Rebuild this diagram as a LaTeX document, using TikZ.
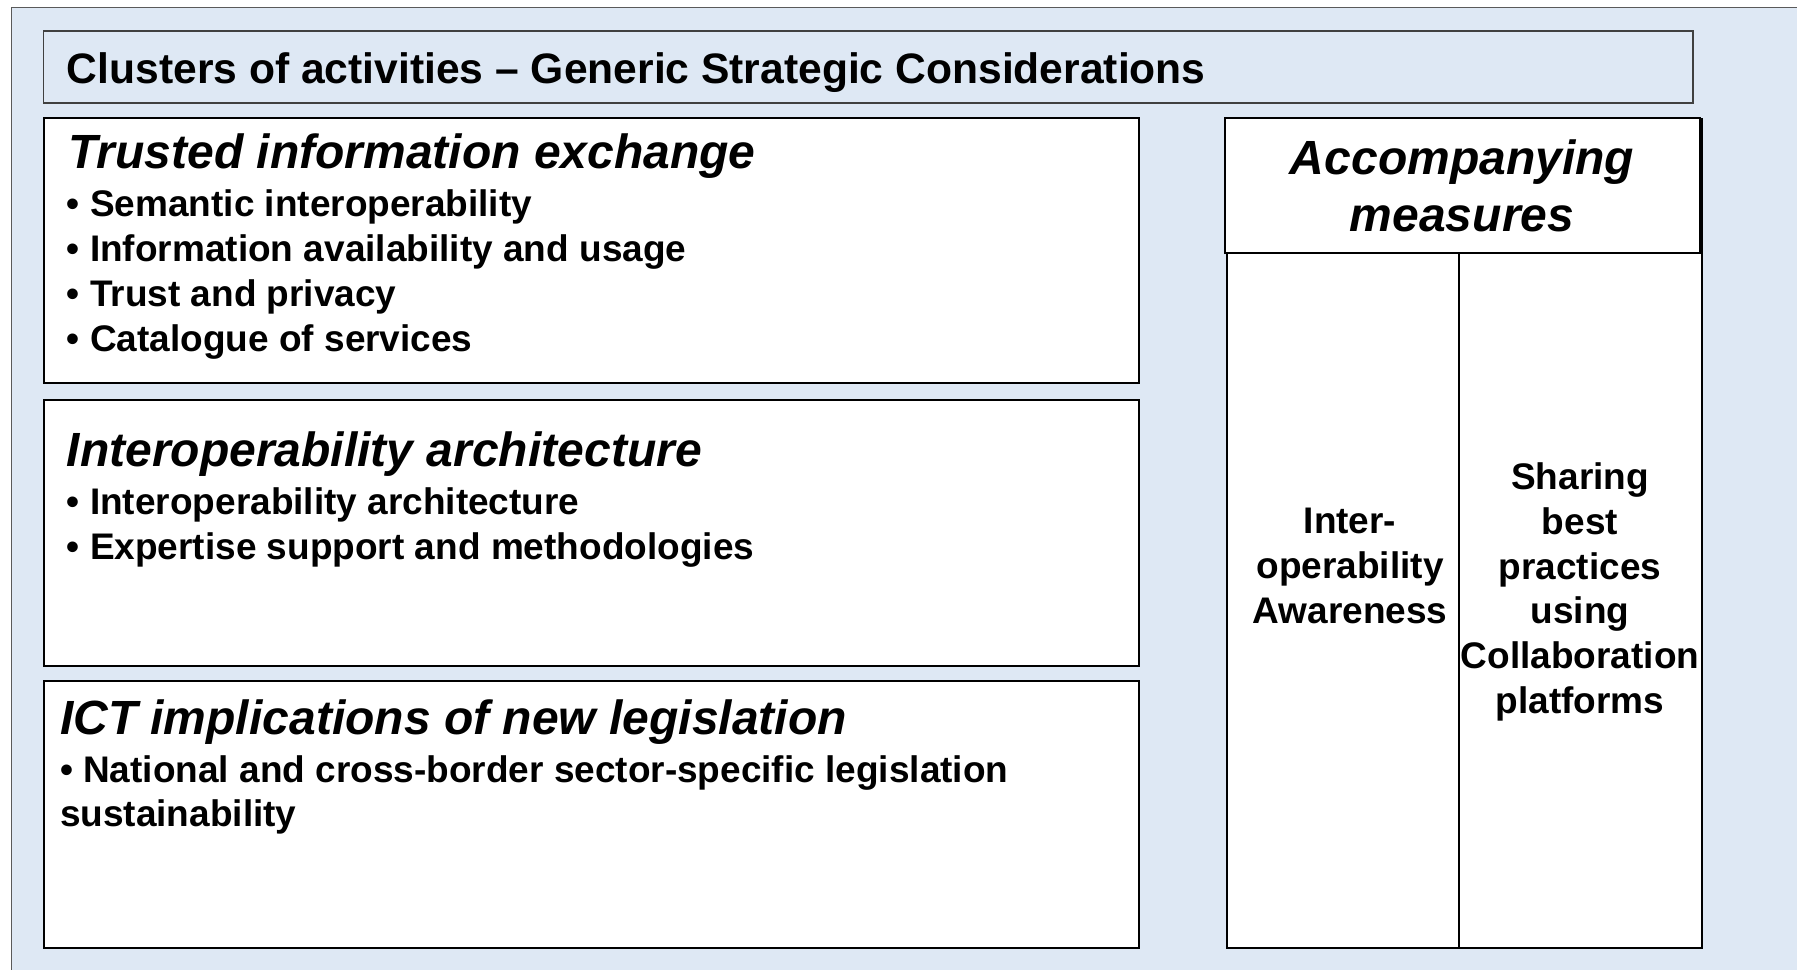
\documentclass[tikz,border=0pt]{standalone}
\usepackage{fontspec}
\setmainfont{Liberation Sans}
\definecolor{panelblue}{HTML}{DEE8F4}
\definecolor{framegray}{HTML}{5A5A5A}
\begin{document}
\begin{tikzpicture}[
    x=0.5pt, y=-0.5pt,
    frame/.style={draw=#1, fill=panelblue, line width=0.8pt},
    cluster/.style={draw, fill=white, line width=1pt},
    heading/.style={anchor=west, inner sep=0pt,
                    font=\fontsize{24}{28.8}\selectfont\bfseries\itshape},
    items/.style={anchor=west, inner sep=0pt, align=left,
                  font=\fontsize{18.5}{22.35}\selectfont\bfseries},
    measure/.style={inner sep=0pt, align=center,
                    font=\fontsize{18.5}{22.35}\selectfont\bfseries},
  ]
    \useasboundingbox (0,0) rectangle (1797,969);
    % Background frame and title bar
    \draw[frame=framegray] (11.5,7.5) rectangle (1820,990);
    \draw[frame=black!75] (43.5,31) rectangle (1693,103);
    \node[anchor=west, inner sep=0pt, font=\fontsize{21.3}{25}\selectfont\bfseries]
      (title) at (66.5,72.5) {Clusters of activities – Generic Strategic Considerations};

    % Clusters
    \draw[cluster] (43.5,118) rectangle (1139,383);
    \draw[cluster] (43.5,400) rectangle (1139,666);
    \draw[cluster] (43.5,681) rectangle (1139,948);

    \node[heading] (trust) at (68,156.5) {Trusted information exchange};
    \node[items] (trustitems) at (66.5,274.5) {• Semantic interoperability\\
      • Information availability and usage\\
      • Trust and privacy\\
      • Catalogue of services};

    \node[heading] (arch) at (66.5,454.5) {Interoperability architecture};
    \node[items] (architems) at (66.5,527.5) {• Interoperability architecture\\
      • Expertise support and methodologies};

    \node[heading] (ict) at (59.6,722.5) {ICT implications of new legislation};
    \node[items] (ictitems) at (59.6,795) {• National and cross-border sector-specific legislation\\
      sustainability};

    % Accompanying measures
    \draw[cluster] (1227,119) rectangle (1702,948);
    \draw[cluster] (1225,118) rectangle (1700,253);
    \draw[line width=1pt] (1459,253) -- (1459,948);
    \node[heading, anchor=center, align=center] (accomp) at (1462,186)
      {Accompanying\\measures};
    \node[measure] (aware) at (1350,566) {Inter-\\operability\\Awareness};
    \node[measure] (sharing) at (1580,592)
      {Sharing\\best\\practices\\using\\Collaboration\\platforms};
  \end{tikzpicture}
\end{document}
